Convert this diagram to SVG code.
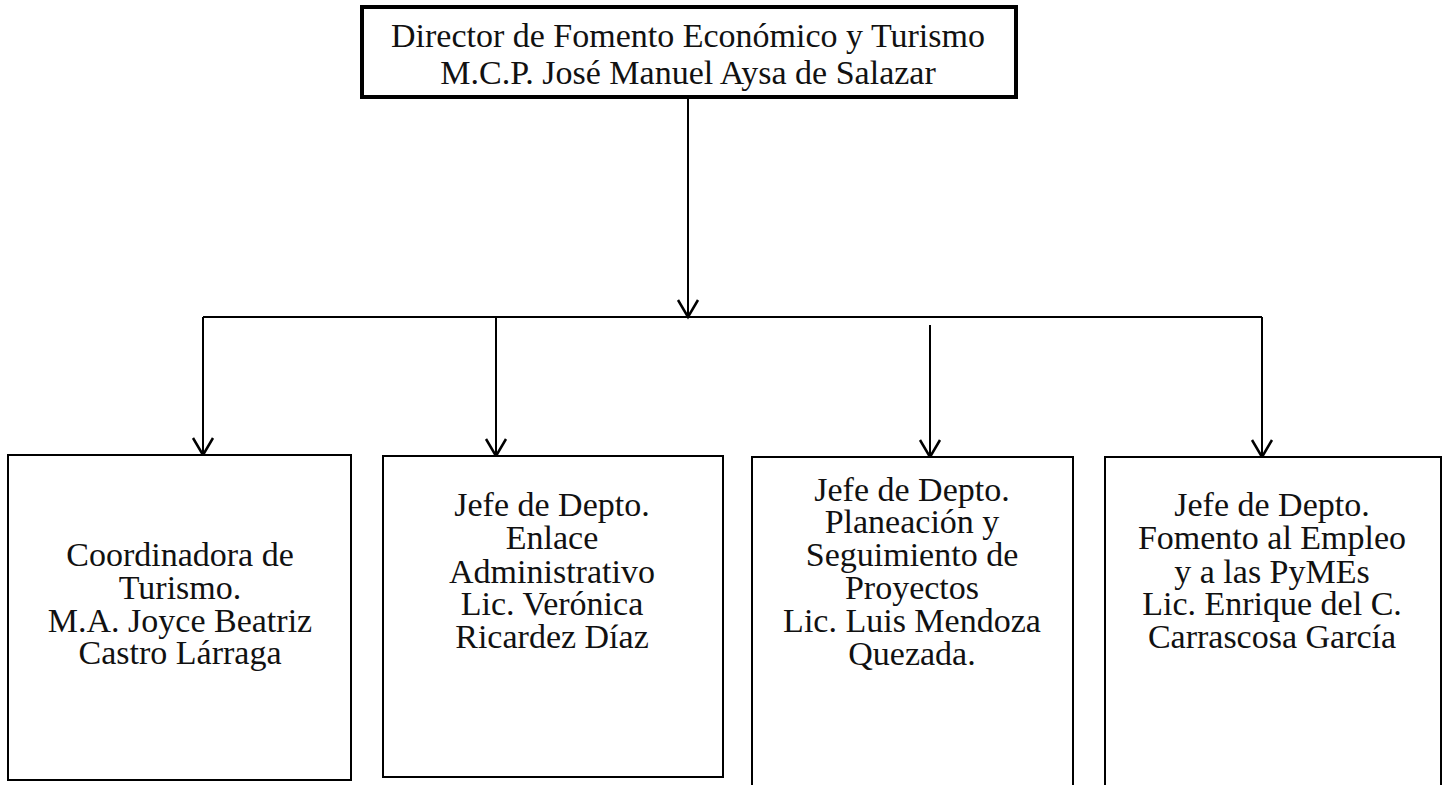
<svg xmlns="http://www.w3.org/2000/svg" width="1444" height="785" viewBox="0 0 1444 785">
<style>
.box{fill:#fff;stroke:#000;stroke-width:2}
.top{fill:#fff;stroke:#000;stroke-width:4}
.lbl{font-family:"Liberation Serif","Times New Roman",serif;font-size:34px;fill:#111;text-anchor:middle}
.conn{fill:none;stroke:#000;stroke-width:2}
</style>
<defs>
<marker id="arr" markerUnits="userSpaceOnUse" markerWidth="30" markerHeight="30" refX="20" refY="15" orient="auto" viewBox="0 0 30 30">
<path d="M3,5 L20,15 L3,25" fill="none" stroke="#000" stroke-width="2.5"/>
</marker>
</defs>
<rect width="1444" height="785" fill="#fff"/>
<g id="connectors">
<path class="conn" d="M688,97 V317" marker-end="url(#arr)"/>
<path class="conn" d="M203,317 H1262"/>
<path class="conn" d="M203,317 V455" marker-end="url(#arr)"/>
<path class="conn" d="M496,317 V456" marker-end="url(#arr)"/>
<path class="conn" d="M930,325 V457" marker-end="url(#arr)"/>
<path class="conn" d="M1262,317 V457" marker-end="url(#arr)"/>
</g>
<g id="director">
<rect class="top" x="362" y="7" width="654" height="90"/>
<text class="lbl" x="688" y="47">Director de Fomento Económico y Turismo</text>
<text class="lbl" x="688" y="84">M.C.P. José Manuel Aysa de Salazar</text>
</g>
<g id="coordinadora">
<rect class="box" x="8" y="455" width="343" height="325"/>
<text class="lbl" x="180" y="566">Coordinadora de</text>
<text class="lbl" x="180" y="599">Turismo.</text>
<text class="lbl" x="180" y="632">M.A. Joyce Beatriz</text>
<text class="lbl" x="180" y="664">Castro Lárraga</text>
</g>
<g id="enlace">
<rect class="box" x="383" y="456" width="340" height="321"/>
<text class="lbl" x="552" y="516">Jefe de Depto.</text>
<text class="lbl" x="552" y="549">Enlace</text>
<text class="lbl" x="552" y="583">Administrativo</text>
<text class="lbl" x="552" y="615">Lic. Verónica</text>
<text class="lbl" x="552" y="648">Ricardez Díaz</text>
</g>
<g id="planeacion">
<path class="box" d="M752,790 V457 H1073 V790"/>
<text class="lbl" x="912" y="501">Jefe de Depto.</text>
<text class="lbl" x="912" y="533">Planeación y</text>
<text class="lbl" x="912" y="566">Seguimiento de</text>
<text class="lbl" x="912" y="599">Proyectos</text>
<text class="lbl" x="912" y="632">Lic. Luis Mendoza</text>
<text class="lbl" x="912" y="665">Quezada.</text>
</g>
<g id="fomento">
<path class="box" d="M1105,790 V457 H1441 V790"/>
<text class="lbl" x="1272" y="516">Jefe de Depto.</text>
<text class="lbl" x="1272" y="549">Fomento al Empleo</text>
<text class="lbl" x="1272" y="583">y a las PyMEs</text>
<text class="lbl" x="1272" y="615">Lic. Enrique del C.</text>
<text class="lbl" x="1272" y="648">Carrascosa García</text>
</g>
</svg>
